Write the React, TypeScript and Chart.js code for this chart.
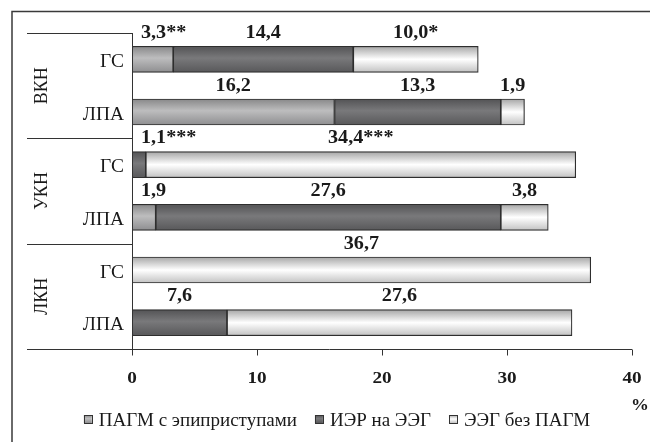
import React, { useEffect, useRef } from "react";
import { Chart, registerables } from "chart.js";

Chart.register(...registerables);

const categories = ["ГС", "ЛПА", "ГС", "ЛПА", "ГС", "ЛПА"];
const groups = ["ВКН", "УКН", "ЛКН"];
const seriesNames = ["ПАГМ с эпиприступами", "ИЭР на ЭЭГ", "ЭЭГ без ПАГМ"];
const pagmValues = [3.3, 16.2, null, 1.9, null, null];
const ierValues = [14.4, 13.3, 1.1, 27.6, null, 7.6];
const eegValues = [10.0, 1.9, 34.4, 3.8, 36.7, 27.6];
const pagmLabels = ["3,3**", "16,2", "", "1,9", "", ""];
const ierLabels = ["14,4", "13,3", "1,1***", "27,6", "", "7,6"];
const eegLabels = ["10,0*", "1,9", "34,4***", "3,8", "36,7", "27,6"];
const xTicks = [0, 10, 20, 30, 40];
const axisUnit = "%";

const FF = '"Liberation Serif", "Times New Roman", serif';
const BAR_T = 26;
const gradStops = [
  [[0, "#888889"], [0.45, "#bdbdbe"], [1, "#8e8e90"]],
  [[0, "#535355"], [0.45, "#79797b"], [1, "#58585a"]],
  [[0, "#a6a6a6"], [0.5, "#ffffff"], [1, "#c2c2c2"]],
];
const flatColors = ["#a4a4a6", "#6c6c6e", "#f0f0f0"];
const allLabels = [pagmLabels, ierLabels, eegLabels];

function makeGrad(ctx: CanvasRenderingContext2D, y0: number, y1: number, s: number) {
  const g = ctx.createLinearGradient(0, y0, 0, y1);
  for (const [p, c] of gradStops[s]) g.addColorStop(p as number, c as string);
  return g;
}

function drawText(
  ctx: CanvasRenderingContext2D,
  text: string,
  x: number,
  y: number,
  font: string,
  align: string,
  sx: number
) {
  ctx.save();
  ctx.font = font;
  ctx.textBaseline = "alphabetic";
  ctx.textAlign = "left";
  const w = ctx.measureText(text).width * sx;
  const left = align === "center" ? x - w / 2 : align === "right" ? x - w : x;
  ctx.translate(left, y);
  ctx.scale(sx, 1);
  ctx.fillText(text, 0, 0);
  ctx.restore();
  return w;
}

const decorPlugin = {
  id: "decor",
  beforeDraw(chart: any) {
    const ctx = chart.ctx as CanvasRenderingContext2D;
    ctx.save();
    ctx.fillStyle = "#ffffff";
    ctx.fillRect(0, 0, chart.width, chart.height);
    ctx.strokeStyle = "#3a3a3a";
    ctx.lineWidth = 1.5;
    ctx.beginPath();
    ctx.moveTo(12, chart.height);
    ctx.lineTo(12, 11.5);
    ctx.lineTo(chart.width, 11.5);
    ctx.stroke();
    ctx.restore();
  },
  afterDraw(chart: any) {
    const ctx = chart.ctx as CanvasRenderingContext2D;
    const xs = chart.scales.x;
    const ys = chart.scales.y;
    const area = chart.chartArea;
    ctx.save();
    ctx.strokeStyle = "#333";
    ctx.lineWidth = 1;
    ctx.beginPath();
    ctx.moveTo(Math.round(area.left) + 0.5, area.top);
    ctx.lineTo(Math.round(area.left) + 0.5, area.bottom);
    ctx.stroke();
    const by = Math.round(area.bottom) + 0.5;
    ctx.beginPath();
    ctx.moveTo(27, by);
    ctx.lineTo(area.right, by);
    for (const t of xTicks) {
      const px = Math.round(xs.getPixelForValue(t)) + 0.5;
      ctx.moveTo(px, by);
      ctx.lineTo(px, by + 6);
    }
    ctx.stroke();
    const n = categories.length;
    const per = n / groups.length;
    ctx.beginPath();
    for (let g = 0; g < groups.length; g++) {
      const yTop = g === 0 ? area.top : ys.getPixelForValue(g * per - 0.5);
      const yy = Math.round(yTop) + 0.5;
      ctx.moveTo(27, yy);
      ctx.lineTo(area.left, yy);
    }
    ctx.stroke();

    ctx.fillStyle = "#1a1a1a";
    for (let g = 0; g < groups.length; g++) {
      const cy = ys.getPixelForValue(g * per + (per - 1) / 2);
      ctx.save();
      ctx.translate(47, cy);
      ctx.rotate(-Math.PI / 2);
      ctx.font = `18px ${FF}`;
      ctx.textAlign = "center";
      ctx.textBaseline = "alphabetic";
      ctx.fillText(groups[g], 0, 0);
      ctx.restore();
    }
    for (let i = 0; i < n; i++) {
      const cy = ys.getPixelForValue(i);
      drawText(ctx, categories[i], 124, cy + 7.5, `18px ${FF}`, "right", 1.08);
    }
    for (const t of xTicks) {
      drawText(ctx, String(t), xs.getPixelForValue(t), 383, `bold 16px ${FF}`, "center", 1.2);
    }
    drawText(ctx, axisUnit, 640, 410, `bold 17px ${FF}`, "center", 1.05);

    const series = [pagmValues, ierValues, eegValues];
    const bfont = `bold 18px ${FF}`;
    for (let i = 0; i < n; i++) {
      let acc = 0;
      const cy = ys.getPixelForValue(i);
      for (let s = 0; s < series.length; s++) {
        const v = series[s][i];
        if (v == null) continue;
        const a = acc;
        acc += v;
        const txt = allLabels[s][i];
        if (!txt) continue;
        const cx = (xs.getPixelForValue(a) + xs.getPixelForValue(acc)) / 2;
        ctx.save();
        ctx.font = bfont;
        const w = ctx.measureText(txt).width * 1.12;
        ctx.restore();
        let left = cx - w / 2;
        const minLeft = xs.getPixelForValue(0) + 9;
        if (left < minLeft) left = minLeft;
        drawText(ctx, txt, left, cy - BAR_T / 2 - 8.5, bfont, "left", 1.12);
      }
    }

    const lfont = `19px ${FF}`;
    ctx.font = lfont;
    const box = 8, gapBox = 7, gapItem = 18;
    const widths = seriesNames.map((s) => ctx.measureText(s).width);
    let total = 0;
    widths.forEach((w, k) => {
      total += box + gapBox + w + (k < widths.length - 1 ? gapItem : 0);
    });
    let lx = 337 - total / 2;
    const ly = 419;
    for (let k = 0; k < seriesNames.length; k++) {
      ctx.fillStyle = makeGrad(ctx, ly - box / 2, ly + box / 2, k);
      ctx.fillRect(lx, ly - box / 2, box, box);
      ctx.strokeStyle = "#333";
      ctx.lineWidth = 1;
      ctx.strokeRect(Math.round(lx) + 0.5, Math.round(ly - box / 2) + 0.5, box, box);
      ctx.fillStyle = "#1a1a1a";
      drawText(ctx, seriesNames[k], lx + box + gapBox, 425.5, lfont, "left", 1);
      lx += box + gapBox + widths[k] + gapItem;
    }
    ctx.restore();
  },
};

function bgFor(s: number) {
  return (c: any) => {
    const chart = c.chart;
    const ys = chart.scales && chart.scales.y;
    if (!ys || c.type !== "data" || !chart.ctx) return flatColors[s];
    const cy = ys.getPixelForValue(c.dataIndex);
    if (!isFinite(cy)) return flatColors[s];
    return makeGrad(chart.ctx, cy - BAR_T / 2, cy + BAR_T / 2, s);
  };
}

export default function App() {
  const ref = useRef<HTMLCanvasElement | null>(null);
  useEffect(() => {
    if (!ref.current) return;
    const series = [pagmValues, ierValues, eegValues];
    const chart = new Chart(ref.current, {
      type: "bar",
      data: {
        labels: categories,
        datasets: series.map((vals, s) => ({
          label: seriesNames[s],
          data: vals,
          backgroundColor: bgFor(s),
          borderColor: "#2e2e2e",
          borderWidth: 1.2,
          borderSkipped: false,
          barThickness: BAR_T,
        })),
      } as any,
      options: {
        indexAxis: "y",
        animation: false,
        responsive: false,
        maintainAspectRatio: false,
        layout: { padding: { left: 132, right: 18, top: 33, bottom: 93 } },
        scales: {
          x: { display: false, stacked: true, min: 0, max: 40 },
          y: { display: false, stacked: true },
        },
        plugins: {
          legend: { display: false },
          tooltip: { enabled: false },
        },
      } as any,
      plugins: [decorPlugin],
    });
    let alive = true;
    const redraw = () => {
      if (alive) chart.draw();
    };
    if ((document as any).fonts) {
      document.fonts.ready.then(redraw).catch(() => {});
    }
    return () => {
      alive = false;
      chart.destroy();
    };
  }, []);
  return (
    <div style={{ position: "fixed", left: 0, top: 0, width: 650, height: 442, background: "#fff" }}>
      <canvas ref={ref} width={650} height={442} style={{ display: "block" }} />
    </div>
  );
}
